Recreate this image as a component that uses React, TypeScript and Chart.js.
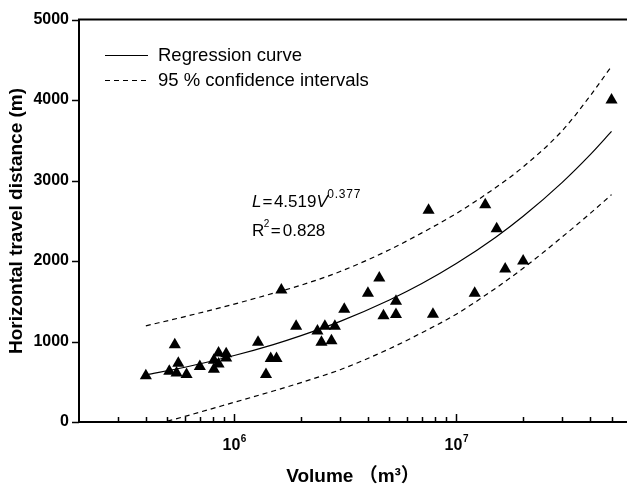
import React, { useEffect, useRef } from 'react';
import { Chart, registerables } from 'chart.js';

Chart.register(...registerables);

// ---- data ----
const volumes = [
  4.0e5, 5.4e5, 5.1e5, 5.6e5, 5.5e5, 6.1e5, 7.0e5, 8.1e5, 8.5e5, 8.1e5, 8.5e5, 9.2e5, 9.2e5,
  1.28e6, 1.39e6, 1.46e6, 1.55e6, 1.63e6, 1.9e6, 2.37e6, 2.47e6, 2.56e6, 2.74e6, 2.84e6, 3.13e6,
  4.0e6, 4.5e6, 4.7e6, 5.35e6, 5.35e6, 7.5e6, 7.85e6, 1.21e7, 1.35e7, 1.52e7, 1.66e7, 2.0e7, 5.0e7,
];
const distances = [
  575, 960, 630, 730, 610, 590, 690, 655, 722, 767, 856, 848, 795,
  990, 590, 790, 790, 1640, 1190, 1130, 990, 1190, 1010, 1190, 1400,
  1600, 1790, 1320, 1500, 1335, 2630, 1340, 1600, 2700, 2400, 1900, 2000, 4000,
];

const curveVolumes = [4e5, 6e5, 1e6, 1.5e6, 2e6, 3e6, 5e6, 7e6, 1e7, 1.5e7, 2e7, 3e7, 4e7, 5e7];
const regressionL = [585, 680, 826, 962, 1073, 1250, 1516, 1720, 1968, 2293, 2556, 2978, 3319, 3610];
const upperL = [1195, 1310, 1465, 1600, 1700, 1870, 2140, 2350, 2590, 2910, 3170, 3620, 4050, 4420];
const lowerVolumes = [5e5, 6e5, 1e6, 1.5e6, 2e6, 3e6, 5e6, 7e6, 1e7, 1.5e7, 2e7, 3e7, 4e7, 5e7];
const lowerL = [10, 70, 245, 385, 490, 650, 910, 1110, 1340, 1660, 1910, 2300, 2590, 2825];

const yTickValues = [0, 1000, 2000, 3000, 4000, 5000];
const xMinorTicks = [
  3e5, 4e5, 5e5, 6e5, 7e5, 8e5, 9e5,
  2e6, 3e6, 4e6, 5e6, 6e6, 7e6, 8e6, 9e6,
  2e7, 3e7, 4e7, 5e7,
];
const xMajorTicks = [1e6, 1e7];
const xMajorLabels = [
  { base: '10', exp: '6' },
  { base: '10', exp: '7' },
];
const legendLabels = ['Regression curve', '95 % confidence intervals'];
const xTitle = 'Volume （m³）';
const yTitle = 'Horizontal travel distance (m)';

const FONT = "'Liberation Sans', Arial, Helvetica, sans-serif";
const TITLE_FONT = "'Liberation Sans', Arial, 'Noto Sans CJK SC', sans-serif";

type Run = { text: string; font: string; dy?: number; after?: number; ls?: string };

function drawRuns(ctx: CanvasRenderingContext2D, x: number, y: number, runs: Run[]) {
  let cx = x;
  for (const r of runs) {
    ctx.font = r.font;
    (ctx as any).letterSpacing = r.ls || '0px';
    ctx.fillText(r.text, cx, y + (r.dy || 0));
    cx += ctx.measureText(r.text).width + (r.after || 0);
  }
  (ctx as any).letterSpacing = '0px';
}

const overlayPlugin = {
  id: 'overlay',
  afterDatasetsDraw(chart: any) {
    const ctx: CanvasRenderingContext2D = chart.ctx;
    const xs = chart.scales.x;
    const ys = chart.scales.y;
    const { left, right, top, bottom } = chart.chartArea;
    ctx.save();
    ctx.strokeStyle = '#000';
    ctx.fillStyle = '#000';

    // axis frame lines
    ctx.lineWidth = 2;
    ctx.setLineDash([]);
    ctx.beginPath();
    ctx.moveTo(left, top);
    ctx.lineTo(right, top);
    ctx.moveTo(left, top - 1);
    ctx.lineTo(left, bottom + 1);
    ctx.moveTo(left - 1, bottom);
    ctx.lineTo(right, bottom);
    ctx.stroke();

    // x ticks (inward)
    ctx.lineWidth = 1.5;
    ctx.beginPath();
    for (const v of xMinorTicks) {
      const px = Math.round(xs.getPixelForValue(v)) + 0.5;
      ctx.moveTo(px, bottom);
      ctx.lineTo(px, bottom - 5);
    }
    for (const v of xMajorTicks) {
      const px = Math.round(xs.getPixelForValue(v)) + 0.5;
      ctx.moveTo(px, bottom);
      ctx.lineTo(px, bottom - 8);
    }
    // y ticks (outward)
    for (const v of yTickValues) {
      const py = Math.round(ys.getPixelForValue(v)) + 0.5;
      ctx.moveTo(left, py);
      ctx.lineTo(left - 7, py);
    }
    ctx.stroke();

    // x tick labels 10^n
    ctx.textBaseline = 'alphabetic';
    ctx.textAlign = 'left';
    xMajorTicks.forEach((v, i) => {
      const px = xs.getPixelForValue(v);
      const lab = xMajorLabels[i];
      ctx.font = `bold 16px ${FONT}`;
      const wb = ctx.measureText(lab.base).width;
      ctx.font = `bold 10px ${FONT}`;
      const we = ctx.measureText(lab.exp).width;
      const x0 = px - (wb + we) / 2;
      ctx.font = `bold 16px ${FONT}`;
      ctx.fillText(lab.base, x0, 450);
      ctx.font = `bold 10px ${FONT}`;
      ctx.fillText(lab.exp, x0 + wb + 0.5, 442);
    });

    // axis titles
    ctx.font = `bold 19px ${TITLE_FONT}`;
    ctx.textAlign = 'center';
    ctx.textBaseline = 'middle';
    ctx.fillText(xTitle, (left + right) / 2, 477);
    ctx.save();
    ctx.translate(17, 221);
    ctx.rotate(-Math.PI / 2);
    ctx.fillText(yTitle, 0, 0);
    ctx.restore();

    // legend
    ctx.textAlign = 'left';
    ctx.textBaseline = 'alphabetic';
    ctx.lineWidth = 1;
    ctx.beginPath();
    ctx.moveTo(105, 55.5);
    ctx.lineTo(148, 55.5);
    ctx.stroke();
    ctx.setLineDash([5, 4]);
    ctx.beginPath();
    ctx.moveTo(105, 80.5);
    ctx.lineTo(148, 80.5);
    ctx.stroke();
    ctx.setLineDash([]);
    ctx.font = `18.5px ${FONT}`;
    ctx.fillText(legendLabels[0], 158, 61);
    ctx.fillText(legendLabels[1], 158, 86);

    // equation annotation
    drawRuns(ctx, 252, 207, [
      { text: 'L', font: `italic 17px ${FONT}`, after: 1 },
      { text: '=', font: `17px ${FONT}`, after: 1.5 },
      { text: '4.519', font: `17px ${FONT}` },
      { text: 'V', font: `italic 17px ${FONT}`, after: -0.5 },
      { text: '0.377', font: `12px ${FONT}`, dy: -9, ls: '0.8px' },
    ]);
    drawRuns(ctx, 252, 235.5, [
      { text: 'R', font: `17px ${FONT}`, after: -0.5 },
      { text: '2', font: `10px ${FONT}`, dy: -9, after: 1.5 },
      { text: '=', font: `17px ${FONT}`, after: 2 },
      { text: '0.828', font: `17px ${FONT}` },
    ]);

    ctx.restore();
  },
};

export default function App() {
  const ref = useRef<HTMLCanvasElement | null>(null);

  useEffect(() => {
    if (!ref.current) return;
    const pts = volumes.map((v, i) => ({ x: v, y: distances[i] }));
    const reg = curveVolumes.map((v, i) => ({ x: v, y: regressionL[i] }));
    const up = curveVolumes.map((v, i) => ({ x: v, y: upperL[i] }));
    const lo = lowerVolumes.map((v, i) => ({ x: v, y: lowerL[i] }));

    const lineBase = {
      showLine: true,
      borderColor: '#000',
      borderWidth: 1.2,
      pointRadius: 0,
      pointHoverRadius: 0,
      cubicInterpolationMode: 'monotone' as const,
      fill: false,
    };

    const chart = new Chart(ref.current, {
      type: 'scatter',
      data: {
        datasets: [
          { ...lineBase, label: 'Regression curve', data: reg },
          { ...lineBase, label: 'Upper', data: up, borderDash: [5, 4] },
          { ...lineBase, label: 'Lower', data: lo, borderDash: [5, 4] },
          {
            label: 'Data',
            data: pts,
            pointStyle: 'triangle',
            pointRadius: 7,
            pointBackgroundColor: '#000',
            pointBorderColor: '#000',
            pointBorderWidth: 0,
            showLine: false,
          },
        ],
      },
      options: {
        responsive: false,
        animation: false,
        devicePixelRatio: 1,
        layout: { autoPadding: false, padding: { top: 13, left: 0, right: 0, bottom: 0 } },
        plugins: { legend: { display: false }, tooltip: { enabled: false } },
        scales: {
          x: {
            type: 'logarithmic',
            min: 2e5,
            max: 5.87e7,
            ticks: { display: false },
            grid: { display: false, drawTicks: false },
            border: { display: false },
            title: { display: false },
            afterFit: (s: any) => {
              s.height = 67;
            },
          },
          y: {
            type: 'linear',
            min: 0,
            max: 5000,
            ticks: {
              stepSize: 1000,
              padding: 10,
              color: '#000',
              font: { family: FONT, size: 16, weight: 'bold' },
              callback: (v: any) => String(v),
            },
            grid: { display: false, drawTicks: false },
            border: { display: false },
            title: { display: false },
            afterFit: (s: any) => {
              s.width = 79;
            },
          },
        },
      } as any,
      plugins: [overlayPlugin],
    });
    return () => chart.destroy();
  }, []);

  return (
    <div style={{ position: 'absolute', left: 0, top: 0, width: 627, height: 489, background: '#fff' }}>
      <canvas ref={ref} width={627} height={489} style={{ display: 'block' }} />
    </div>
  );
}
